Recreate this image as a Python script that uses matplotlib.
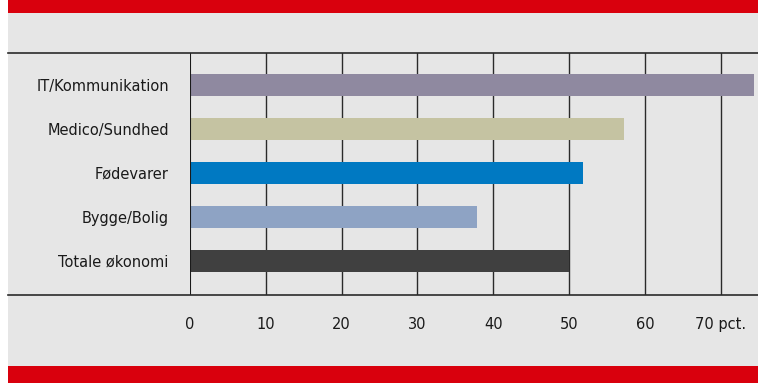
import matplotlib.pyplot as plt
from matplotlib.patches import Rectangle
from matplotlib.lines import Line2D

categories = ["IT/Kommunikation", "Medico/Sundhed", "Fødevarer", "Bygge/Bolig", "Totale økonomi"]
values = [74.3, 57.2, 51.8, 37.9, 50.0]
colors = ["#8f89a0", "#c5c3a2", "#0079c2", "#8ea3c4", "#404040"]
ticks = [0, 10, 20, 30, 40, 50, 60, 70]
tick_labels = ["0", "10", "20", "30", "40", "50", "60", "70 pct."]

W, H = 758, 383
fig = plt.figure(figsize=(W / 100, H / 100), dpi=100)
fig.patch.set_facecolor("white")

def px(x, y):
	# pixel coords (top-left origin) -> figure fraction
	return x / W, 1 - y / H

# gray panel and red bands
bx, by = px(8, 366)
fig.add_artist(Rectangle((bx, by), 1 - bx, (366 - 13) / H, transform=fig.transFigure,
	facecolor="#e6e6e6", edgecolor="none", zorder=0))
fig.add_artist(Rectangle(px(8, 13), 1 - bx, 13 / H, transform=fig.transFigure,
	facecolor="#d9000d", edgecolor="none", zorder=0))
fig.add_artist(Rectangle(px(8, 383), 1 - bx, 17 / H, transform=fig.transFigure,
	facecolor="#d9000d", edgecolor="none", zorder=0))

left, top, bottom = 189.7, 53, 295
ax = fig.add_axes([left / W, 1 - bottom / H, (W - left) / W, (bottom - top) / H])
ax.set_facecolor("none")

y = list(range(len(categories)))
ax.barh(y, values, height=0.5, color=colors, zorder=3)

ax.set_xlim(0, (W - left) / 7.59)
ax.set_ylim(4.773, -0.727)

for t in ticks[1:]:
	ax.axvline(t, color="#2a2a2a", lw=1.0, zorder=1)

for s in ax.spines.values():
	s.set_visible(False)
ax.axvline(0, color="#1a1a1a", lw=1.5, zorder=4)

# horizontal rules across the full panel
for yy in (top, bottom):
	x0, y0 = px(8, yy)
	fig.add_artist(Line2D([x0, 1], [y0, y0], transform=fig.transFigure,
		color="#2a2a2a", lw=1.2, zorder=5))

ax.set_yticks(y)
ax.set_yticklabels(categories, fontsize=10.5, color="#1a1a1a")
ax.set_xticks(ticks)
ax.set_xticklabels(tick_labels, fontsize=10.5, color="#1a1a1a")
ax.tick_params(axis="y", length=0, pad=15)
ax.tick_params(axis="x", length=0, pad=16)

fig.savefig("out.png", dpi=100, facecolor=fig.get_facecolor())
